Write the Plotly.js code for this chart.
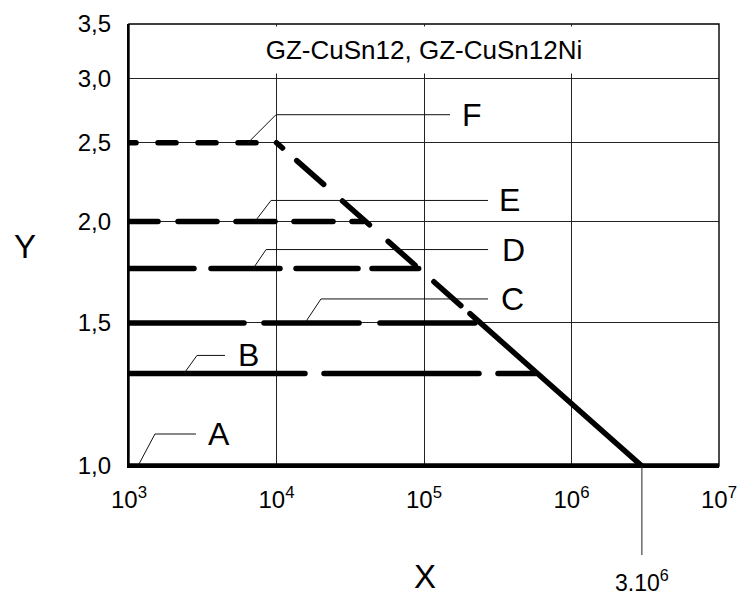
<!DOCTYPE html>
<html>
<head>
<meta charset="utf-8">
<script src="https://cdn.plot.ly/plotly-3.0.1.min.js"></script>
<style>
  html, body { margin: 0; padding: 0; background: #fff; }
  #chart { width: 745px; height: 595px; }
  /* rounded dash ends on the curves */
  #chart .scatterlayer .js-line { stroke-linecap: round; }
</style>
</head>
<body>
<div id="chart"></div>
<script>
// Axis ticks
const xTickVals = [1e3, 1e4, 1e5, 1e6, 1e7];
const xTickText = ['10<sup>3</sup>', '10<sup>4</sup>', '10<sup>5</sup>', '10<sup>6</sup>', '10<sup>7</sup>'];
const yTickVals = [1.0, 1.5, 2.0, 2.5, 3.0, 3.5];
const yTickText = ['1,0', '1,5', '2,0', '2,5', '3,0', '3,5'];

// Horizontal curves A–F: level and x extent
const curveNames = ['A', 'B', 'C', 'D', 'E', 'F'];
const curveLevel = [1.0, 1.3, 1.5, 1.75, 2.0, 2.5];
const curveStartX = [1e3, 1e3, 1e3, 1e3, 1e3, 1e3];
const curveEndX = [1e7, 5.7e5, 2.42e5, 9.2e4, 3.9e4, 1e4];

// Sloped limit line: dashed upper part, solid lower part
const slopeX = [1e4, 2.05e5, 3e6];
const slopeY = [2.5, 1.54, 1.0];

// Point on each curve where its label leader starts
const leaderX = [1150, 2360, 1.56e4, 6940, 7150, 6410];

const chartTitle = 'GZ-CuSn12, GZ-CuSn12Ni';

// ---- styling ----
const FONT = 'Liberation Sans, Arial, sans-serif';
const LW = 5.5;
const rep = (s, n) => Array(n).fill(s).join(',');
const curveDash = [
  'solid',
  '176px,19px,155px,19px,155px,19px',
  '115px,20px,95px,21px,95px,21px,95px,21px',
  '65px,17px,69px,16px,62px,14px,62px,14px',
  '29px,20px,' + rep('39px,19px', 6),
  '7px,22px,' + rep('18px,22px', 5)
];
const slopeDash = '8px,19px,' + rep('36px,25px', 6);
// leader geometry in pixels: [kinkDx, riseDy, endDx, labelDx]
const leaderGeom = [
  [17, 32, 58, 81],
  [13, 18, 41, 64],
  [16, 24, 183, 208],
  [13, 19, 235, 260],
  [16, 21, 233, 254],
  [28, 28, 202, 224]
];

const traces = [];
curveNames.forEach((name, i) => {
  traces.push({
    type: 'scatter', mode: 'lines', name: name,
    x: [curveStartX[i], curveEndX[i]],
    y: [curveLevel[i], curveLevel[i]],
    line: { color: '#000', width: LW, dash: curveDash[i] },
    hoverinfo: 'skip'
  });
});
traces.push({
  type: 'scatter', mode: 'lines',
  x: slopeX.slice(0, 2), y: slopeY.slice(0, 2),
  line: { color: '#000', width: LW, dash: slopeDash },
  hoverinfo: 'skip'
});
traces.push({
  type: 'scatter', mode: 'lines',
  x: slopeX.slice(1), y: slopeY.slice(1),
  line: { color: '#000', width: LW },
  hoverinfo: 'skip'
});

const shapes = [];
const annotations = [];

// leaders and letters
curveNames.forEach((name, i) => {
  const g = leaderGeom[i];
  shapes.push({
    type: 'path', xref: 'x', yref: 'y',
    xsizemode: 'pixel', ysizemode: 'pixel',
    xanchor: leaderX[i], yanchor: curveLevel[i],
    path: `M0,0 L${g[0]},${g[1]} L${g[2]},${g[1]}`,
    line: { color: '#111', width: 1 }, layer: 'above'
  });
  annotations.push({
    xref: 'x', yref: 'y',
    x: Math.log10(leaderX[i]), y: Math.log10(curveLevel[i]),
    xshift: g[3], yshift: g[1],
    text: name, showarrow: false,
    xanchor: 'center', yanchor: 'middle',
    font: { family: FONT, size: 32, color: '#000' }
  });
});

// marker below the end of the sloped line (paper coords so it can leave the plot area)
const endX = slopeX[slopeX.length - 1];
const xRangeLog = [3, 7];
const endPaperX = (Math.log10(endX) - xRangeLog[0]) / (xRangeLog[1] - xRangeLog[0]);
shapes.push({
  type: 'line', xref: 'paper', yref: 'paper',
  x0: endPaperX, x1: endPaperX, y0: 0, y1: -89 / 442,
  line: { color: '#222', width: 1 }, layer: 'above'
});
annotations.push({
  xref: 'paper', yref: 'paper',
  x: endPaperX, y: 0, yshift: -115,
  text: '3.10<sup>6</sup>', showarrow: false,
  xanchor: 'center', yanchor: 'middle',
  font: { family: FONT, size: 23, color: '#000' }
});

// frame: top and right border
shapes.push({
  type: 'rect', xref: 'paper', yref: 'paper', x0: 0, x1: 1, y0: 0, y1: 1,
  line: { color: '#000', width: 1.4 }, layer: 'below'
});

// boxed title in the top strip
annotations.push({
  xref: 'x', yref: 'paper', x: 5, y: 1, yshift: -26,
  text: chartTitle, showarrow: false,
  xanchor: 'center', yanchor: 'middle',
  width: 336, height: 44, bgcolor: '#fff',
  font: { family: FONT, size: 26, color: '#000' }
});

// axis letters
annotations.push({
  xref: 'paper', yref: 'paper', x: -0.176, y: 0.4955,
  text: 'Y', showarrow: false, xanchor: 'center', yanchor: 'middle',
  font: { family: FONT, size: 33, color: '#000' }
});
annotations.push({
  xref: 'paper', yref: 'paper', x: 0.502, y: -0.251,
  text: 'X', showarrow: false, xanchor: 'center', yanchor: 'middle',
  font: { family: FONT, size: 33, color: '#000' }
});

const layout = {
  width: 745, height: 595,
  margin: { l: 129, r: 26, t: 24, b: 129 },
  paper_bgcolor: '#fff', plot_bgcolor: '#fff',
  showlegend: false,
  xaxis: {
    type: 'log', range: xRangeLog,
    tickmode: 'array', tickvals: xTickVals, ticktext: xTickText,
    showgrid: true, gridcolor: '#222', gridwidth: 1,
    zeroline: false, showline: true, linecolor: '#000', linewidth: 2,
    ticks: '', ticklabelstandoff: 11,
    tickfont: { family: FONT, size: 24, color: '#000' },
    fixedrange: true
  },
  yaxis: {
    type: 'log', range: [0, Math.log10(3.5)],
    tickmode: 'array', tickvals: yTickVals, ticktext: yTickText,
    showgrid: true, gridcolor: '#222', gridwidth: 1,
    zeroline: false, showline: true, linecolor: '#000', linewidth: 2.2,
    ticks: '', ticklabelstandoff: 11,
    tickfont: { family: FONT, size: 24, color: '#000' },
    fixedrange: true
  },
  shapes: shapes,
  annotations: annotations
};

Plotly.newPlot('chart', traces, layout, { displayModeBar: false, staticPlot: true });
</script>
</body>
</html>
